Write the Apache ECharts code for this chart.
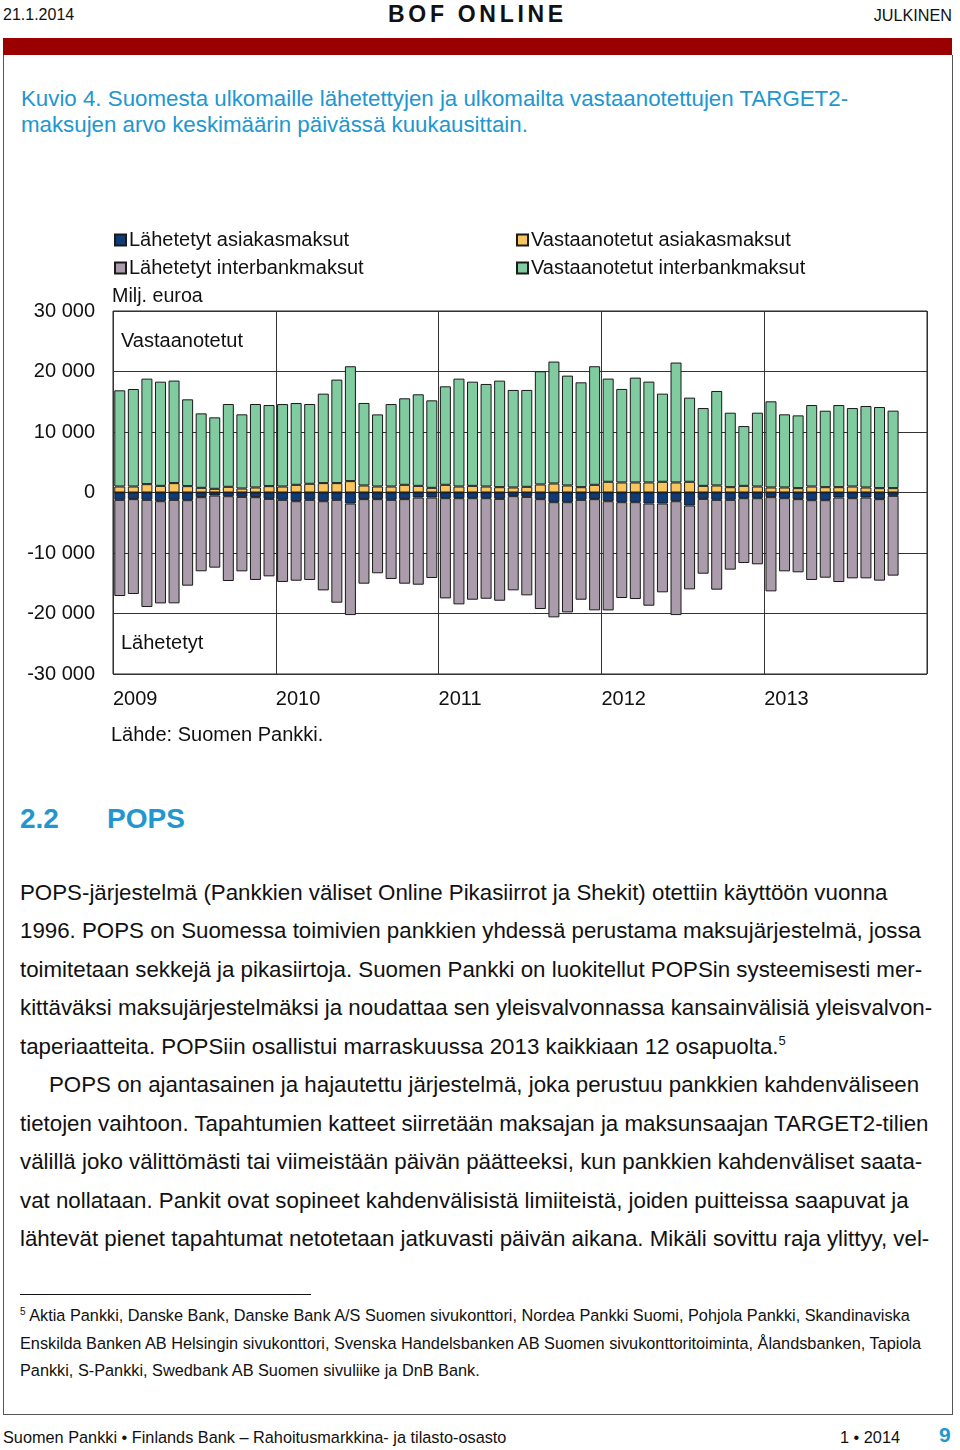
<!DOCTYPE html>
<html>
<head>
<meta charset="utf-8">
<script src="https://cdn.jsdelivr.net/npm/echarts@6/dist/echarts.min.js"></script>
<style>
  html, body { margin:0; padding:0; background:#fff; }
  body { width:960px; height:1450px; position:relative; overflow:hidden;
         font-family:"Liberation Sans", Arial, Helvetica, sans-serif; color:#111; }
  .abs { position:absolute; white-space:nowrap; }
  #chart { position:absolute; left:0; top:200px; width:960px; height:560px; }
  .body-lines div { height:38.45px; line-height:38.45px; }
  .fn div { height:27.5px; line-height:27.5px; }
</style>
</head>
<body>
<div class="abs" style="left:3px; top:6px; font-size:16px;">21.1.2014</div>
<div class="abs" style="left:388px; top:1px; font-size:23px; font-weight:bold; letter-spacing:3.7px;">BOF ONLINE</div>
<div class="abs" style="right:8px; top:6px; font-size:16.2px;">JULKINEN</div>
<div class="abs" style="left:3px; top:38px; width:949px; height:17px; background:#9b0000;"></div>
<div class="abs" style="left:3px; top:55px; width:948px; height:1359px; border:1px solid #555; border-top:none;"></div>

<div class="abs" style="left:21px; top:86px; font-size:22.3px; color:#2196d0; line-height:26px;">Kuvio 4. Suomesta ulkomaille lähetettyjen ja ulkomailta vastaanotettujen TARGET2-<br>maksujen arvo keskimäärin päivässä kuukausittain.</div>

<div id="chart"></div>

<div class="abs" style="left:20px; top:803px; font-size:28px; font-weight:bold; color:#2196d0;">2.2</div>
<div class="abs" style="left:107px; top:803px; font-size:28px; font-weight:bold; color:#2196d0;">POPS</div>

<div class="abs body-lines" style="left:20px; top:874px; font-size:22.3px;">
<div>POPS-järjestelmä (Pankkien väliset Online Pikasiirrot ja Shekit) otettiin käyttöön vuonna</div>
<div>1996. POPS on Suomessa toimivien pankkien yhdessä perustama maksujärjestelmä, jossa</div>
<div>toimitetaan sekkejä ja pikasiirtoja. Suomen Pankki on luokitellut POPSin systeemisesti mer-</div>
<div>kittäväksi maksujärjestelmäksi ja noudattaa sen yleisvalvonnassa kansainvälisiä yleisvalvon-</div>
<div>taperiaatteita. POPSiin osallistui marraskuussa 2013 kaikkiaan 12 osapuolta.<sup style="font-size:13px; vertical-align:9px; line-height:0;">5</sup></div>
<div style="padding-left:29px;">POPS on ajantasainen ja hajautettu järjestelmä, joka perustuu pankkien kahdenväliseen</div>
<div>tietojen vaihtoon. Tapahtumien katteet siirretään maksajan ja maksunsaajan TARGET2-tilien</div>
<div>välillä joko välittömästi tai viimeistään päivän päätteeksi, kun pankkien kahdenväliset saata-</div>
<div>vat nollataan. Pankit ovat sopineet kahdenvälisistä limiiteistä, joiden puitteissa saapuvat ja</div>
<div>lähtevät pienet tapahtumat netotetaan jatkuvasti päivän aikana. Mikäli sovittu raja ylittyy, vel-</div>
</div>

<div class="abs" style="left:20px; top:1294px; width:291px; height:1px; background:#111;"></div>
<div class="abs fn" style="left:20px; top:1302px; font-size:16.3px;">
<div><sup style="font-size:10px; vertical-align:6px; line-height:0;">5</sup> Aktia Pankki, Danske Bank, Danske Bank A/S Suomen sivukonttori, Nordea Pankki Suomi, Pohjola Pankki, Skandinaviska</div>
<div>Enskilda Banken AB Helsingin sivukonttori, Svenska Handelsbanken AB Suomen sivukonttoritoiminta, Ålandsbanken, Tapiola</div>
<div>Pankki, S-Pankki, Swedbank AB Suomen sivuliike ja DnB Bank.</div>
</div>

<div class="abs" style="left:3px; top:1428px; font-size:16.3px;">Suomen Pankki • Finlands Bank – Rahoitusmarkkina- ja tilasto-osasto</div>
<div class="abs" style="left:840px; top:1428px; font-size:16.3px;">1 • 2014</div>
<div class="abs" style="left:939px; top:1423px; font-size:21px; font-weight:bold; color:#2196d0;">9</div>

<script>
// ---------------- DATA ----------------
const years = ['2009', '2010', '2011', '2012', '2013'];
const monthNames = ['01','02','03','04','05','06','07','08','09','10','11','12'];
const yTicks = [-30000, -20000, -10000, 0, 10000, 20000, 30000];

const seriesNames = [
  'Lähetetyt asiakasmaksut',
  'Lähetetyt interbankmaksut',
  'Vastaanotetut asiakasmaksut',
  'Vastaanotetut interbankmaksut'
];

// Vastaanotetut asiakasmaksut (received, customer), Milj. euroa
const receivedCustomer = [
  990, 990, 1380, 1100, 1550, 1050, 770, 610, 940, 660, 830, 1050,
  990, 1270, 1440, 1550, 1550, 1880, 1160, 990, 990, 1270, 1100, 770,
  1270, 990, 1100, 990, 880, 830, 940, 1330, 1490, 1160, 880, 1270,
  1770, 1660, 1660, 1660, 1770, 1660, 1770, 1100, 1160, 880, 1100, 990,
  830, 830, 720, 990, 880, 880, 990, 830, 720, 720
];
// Vastaanotetut interbankmaksut (received, interbank)
const receivedInterbank = [
  15900, 16120, 17440, 17220, 16950, 14350, 12310, 11810, 13690, 12260, 13800, 13410,
  13630, 13520, 13190, 14790, 17110, 18990, 13640, 11920, 13630, 14300, 15130, 14460,
  16280, 17830, 17220, 16950, 17610, 16120, 16010, 18710, 20150, 18160, 17330, 19600,
  17060, 15460, 17330, 16670, 14570, 19820, 13910, 12860, 15620, 12310, 9880, 12200,
  14240, 12090, 12030, 13470, 12640, 13580, 12970, 13470, 13410, 12810
];
// Lähetetyt asiakasmaksut (sent, customer) - negative
const sentCustomer = [
  -1210, -1100, -1210, -1440, -1210, -1270, -770, -500, -610, -720, -770, -1050,
  -1210, -1440, -1210, -1440, -1210, -1820, -1100, -1100, -1210, -1100, -830, -830,
  -940, -940, -940, -940, -1050, -600, -720, -1100, -1600, -1600, -1210, -1100,
  -1440, -1600, -1600, -1820, -1820, -1440, -2150, -1050, -1210, -1210, -940, -940,
  -770, -940, -1100, -1270, -1270, -830, -940, -830, -1100, -550
];
// Lähetetyt interbankmaksut (sent, interbank) - negative
const sentInterbank = [
  -15900, -15680, -17720, -16890, -17110, -14130, -12250, -11920, -14020, -12310, -13690, -12810,
  -13580, -13140, -13250, -14740, -17000, -18440, -13970, -12250, -13080, -13970, -14410, -13300,
  -16560, -17550, -16780, -16620, -16840, -15570, -16280, -18160, -19040, -18220, -16510, -18380,
  -18050, -15840, -16010, -16890, -14680, -18820, -13860, -12370, -14850, -11540, -10710, -10930,
  -15570, -12090, -12090, -13190, -12810, -13970, -13250, -13360, -13470, -13190
];

// ---------------- CHART ----------------
const categories = [];
years.forEach(y => monthNames.forEach(m => categories.push(y + '-' + m)));

const colors = {
  sentCust: '#0f3c78',
  sentInter: '#aa9caa',
  recCust: '#f9c55e',
  recInter: '#80cb9f'
};
const FONT = '"Liberation Sans", Arial, Helvetica, sans-serif';
const FS = 20;
const fmt = v => {
  const s = String(Math.abs(v)).replace(/\B(?=(\d{3})+(?!\d))/g, ' ');
  return (v < 0 ? '-' : '') + s;
};

const chart = echarts.init(document.getElementById('chart'), null, { renderer: 'canvas' });
const barStyle = c => ({ color: c, borderColor: '#1a1a1a', borderWidth: 1 });
const common = { type: 'bar', stack: 'all', barWidth: 11, xAxisIndex: 0, yAxisIndex: 0, animation: false };

chart.setOption({
  animation: false,
  textStyle: { fontFamily: FONT },
  grid: { left: 113, top: 111, width: 814, height: 363, show: true, borderColor: '#222', borderWidth: 1, backgroundColor: 'transparent' },
  legend: [
    {
      data: [seriesNames[0], seriesNames[1]],
      orient: 'vertical', left: 109, top: 24, itemGap: 6,
      itemWidth: 11, itemHeight: 11, icon: 'rect',
      textStyle: { fontSize: FS, color: '#111', lineHeight: 22, fontFamily: FONT, padding: [0, 0, 0, -2] },
      selectedMode: false
    },
    {
      data: [seriesNames[2], seriesNames[3]],
      orient: 'vertical', left: 511, top: 24, itemGap: 6,
      itemWidth: 11, itemHeight: 11, icon: 'rect',
      textStyle: { fontSize: FS, color: '#111', lineHeight: 22, fontFamily: FONT, padding: [0, 0, 0, -2] },
      selectedMode: false
    }
  ],
  xAxis: [
    { type: 'category', data: categories, show: false },
    {
      type: 'value', min: 0, max: 60, interval: 12, position: 'bottom',
      axisLine: { show: false }, axisTick: { show: false },
      splitLine: { show: true, lineStyle: { color: '#333', width: 1 } },
      axisLabel: {
        show: true, align: 'left', margin: 15, fontSize: FS, color: '#111', fontFamily: FONT,
        formatter: v => (v < 60 ? years[v / 12] : '')
      }
    }
  ],
  yAxis: {
    type: 'value', min: yTicks[0], max: yTicks[yTicks.length - 1], interval: 10000,
    axisLine: { show: false }, axisTick: { show: false },
    splitLine: { show: true, lineStyle: { color: '#333', width: 1 } },
    axisLabel: { margin: 18, fontSize: FS, color: '#111', fontFamily: FONT, formatter: fmt }
  },
  graphic: [
    { type: 'text', left: 112, top: 87, style: { text: 'Milj. euroa', font: '19.7px ' + FONT, fill: '#111' } },
    { type: 'text', left: 121, top: 131, z: 10, style: { text: 'Vastaanotetut', font: FS + 'px ' + FONT, fill: '#111' } },
    { type: 'text', left: 121, top: 433, z: 10, style: { text: 'Lähetetyt', font: FS + 'px ' + FONT, fill: '#111' } },
    { type: 'text', left: 111, top: 525, style: { text: 'Lähde: Suomen Pankki.', font: FS + 'px ' + FONT, fill: '#111' } }
  ],
  series: [
    Object.assign({}, common, { name: seriesNames[2], data: receivedCustomer, itemStyle: barStyle(colors.recCust) }),
    Object.assign({}, common, { name: seriesNames[0], data: sentCustomer, itemStyle: barStyle(colors.sentCust) }),
    Object.assign({}, common, { name: seriesNames[3], data: receivedInterbank, itemStyle: barStyle(colors.recInter) }),
    Object.assign({}, common, { name: seriesNames[1], data: sentInterbank, itemStyle: barStyle(colors.sentInter) })
  ]
});
</script>
</body>
</html>
